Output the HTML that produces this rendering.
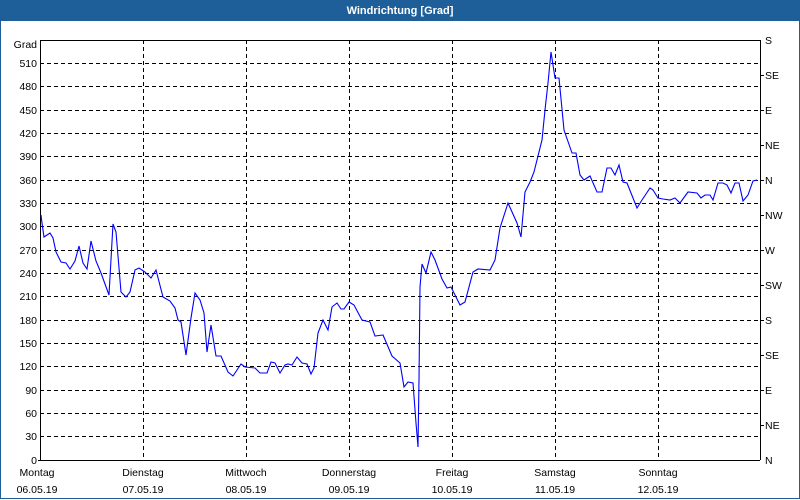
<!DOCTYPE html>
<html><head><style>
body{margin:0;background:#fff;}
.w{position:relative;width:798px;height:498px;border:1px solid #1f5f99;border-top:none;overflow:hidden}
</style></head><body>
<div class="w">
<svg width="800" height="500" style="position:absolute;left:-1px;top:0" font-family="Liberation Sans, sans-serif" font-size="10.5">
<rect x="0" y="0" width="800" height="21" fill="#1f5f99"/>
<text x="400" y="14" text-anchor="middle" fill="#fff" font-weight="bold" font-size="11">Windrichtung [Grad]</text>
<g stroke="#000" stroke-dasharray="4,3" stroke-width="1">
<line x1="40" x2="760" y1="63.5" y2="63.5"/><line x1="40" x2="760" y1="86.5" y2="86.5"/><line x1="40" x2="760" y1="110.5" y2="110.5"/><line x1="40" x2="760" y1="133.5" y2="133.5"/><line x1="40" x2="760" y1="156.5" y2="156.5"/><line x1="40" x2="760" y1="180.5" y2="180.5"/><line x1="40" x2="760" y1="203.5" y2="203.5"/><line x1="40" x2="760" y1="226.5" y2="226.5"/><line x1="40" x2="760" y1="250.5" y2="250.5"/><line x1="40" x2="760" y1="273.5" y2="273.5"/><line x1="40" x2="760" y1="296.5" y2="296.5"/><line x1="40" x2="760" y1="320.5" y2="320.5"/><line x1="40" x2="760" y1="343.5" y2="343.5"/><line x1="40" x2="760" y1="366.5" y2="366.5"/><line x1="40" x2="760" y1="390.5" y2="390.5"/><line x1="40" x2="760" y1="413.5" y2="413.5"/><line x1="40" x2="760" y1="436.5" y2="436.5"/>
<line x1="143.5" x2="143.5" y1="40" y2="460"/><line x1="246.5" x2="246.5" y1="40" y2="460"/><line x1="349.5" x2="349.5" y1="40" y2="460"/><line x1="452.5" x2="452.5" y1="40" y2="460"/><line x1="555.5" x2="555.5" y1="40" y2="460"/><line x1="658.5" x2="658.5" y1="40" y2="460"/>
</g>
<polyline fill="none" stroke="#000" stroke-width="1" points="40.5,460 40.5,40.5 760.5,40.5 760.5,460"/>
<line x1="38" x2="760" y1="460.5" y2="460.5" stroke="#000"/>
<g stroke="#000">
<line x1="760" x2="764" y1="75.5" y2="75.5"/><line x1="760" x2="764" y1="110.5" y2="110.5"/><line x1="760" x2="764" y1="145.5" y2="145.5"/><line x1="760" x2="764" y1="180.5" y2="180.5"/><line x1="760" x2="764" y1="215.5" y2="215.5"/><line x1="760" x2="764" y1="250.5" y2="250.5"/><line x1="760" x2="764" y1="285.5" y2="285.5"/><line x1="760" x2="764" y1="320.5" y2="320.5"/><line x1="760" x2="764" y1="355.5" y2="355.5"/><line x1="760" x2="764" y1="390.5" y2="390.5"/><line x1="760" x2="764" y1="425.5" y2="425.5"/>
</g>
<g text-anchor="end" fill="#000">
<text x="37" y="48">Grad</text>
<text x="37" y="67">510</text><text x="37" y="90">480</text><text x="37" y="114">450</text><text x="37" y="137">420</text><text x="37" y="160">390</text><text x="37" y="184">360</text><text x="37" y="207">330</text><text x="37" y="230">300</text><text x="37" y="254">270</text><text x="37" y="277">240</text><text x="37" y="300">210</text><text x="37" y="324">180</text><text x="37" y="347">150</text><text x="37" y="370">120</text><text x="37" y="394">90</text><text x="37" y="417">60</text><text x="37" y="440">30</text><text x="37" y="464">0</text>
</g>
<g fill="#000">
<text x="765" y="44">S</text><text x="765" y="79">SE</text><text x="765" y="114">E</text><text x="765" y="149">NE</text><text x="765" y="184">N</text><text x="765" y="219">NW</text><text x="765" y="254">W</text><text x="765" y="289">SW</text><text x="765" y="324">S</text><text x="765" y="359">SE</text><text x="765" y="394">E</text><text x="765" y="429">NE</text><text x="765" y="464">N</text>
</g>
<g text-anchor="middle" fill="#000">
<text x="37" y="476">Montag</text><text x="37" y="493">06.05.19</text>
<text x="143" y="476">Dienstag</text><text x="143" y="493">07.05.19</text>
<text x="246" y="476">Mittwoch</text><text x="246" y="493">08.05.19</text>
<text x="349" y="476">Donnerstag</text><text x="349" y="493">09.05.19</text>
<text x="452" y="476">Freitag</text><text x="452" y="493">10.05.19</text>
<text x="555" y="476">Samstag</text><text x="555" y="493">11.05.19</text>
<text x="658" y="476">Sonntag</text><text x="658" y="493">12.05.19</text>
</g>
<polyline fill="none" stroke="#0000ff" stroke-width="1.1" points="41,215 42,223 44,237 50,233 53,238 56,252 61,262 66,263 70,269 75,261 79,246 83,263 87,269 91,241 96,261 101,273 109,295 113,224 116,232 121,292 126,297 130,292 135,270 139,268 145,272 151,278 156,270 163,297 170,301 175,308 178,320 181,322 186,355 191,318 195,293 200,300 204,313 207,352 211,325 216,356 221,356 228,372 233,376 241,364 245,367 255,368 260,373 267,373 271,362 275,363 280,373 285,365 288,364 292,365 297,357 302,363 307,364 311,374 314,368 318,333 323,320 328,330 332,307 337,303 341,309 344,309 349,302 354,305 362,320 370,322 375,336 383,335 392,356 400,363 404,387 408,382 413,383 416,423 418,447 419,380 420,287 422,264 426,273 431,252 435,260 442,279 447,288 451,287 460,305 465,302 473,272 478,269 490,270 495,260 500,228 508,203 517,223 521,237 525,192 530,182 534,172 542,140 545,110 548,83 551,52 553,65 555,78 559,78 564,130 572,153 576,153 580,175 584,180 590,176 597,192 602,192 607,168 611,168 615,175 619,165 623,182 627,183 637,208 642,200 650,188 653,190 658,198 663,199 670,200 675,198 680,203 688,192 697,193 701,198 705,195 710,195 713,200 718,183 723,183 727,185 731,193 735,183 739,183 743,201 748,195 753,181 757,180"/>
</svg>
</div>
</body></html>
